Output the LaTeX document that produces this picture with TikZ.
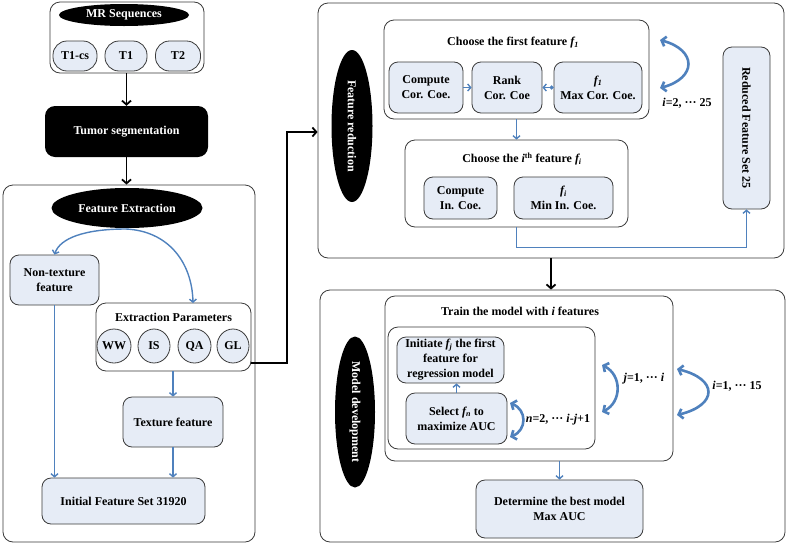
\documentclass[tikz,border=0pt]{standalone}
\usepackage{fontspec}
\setmainfont{Liberation Serif}
\usepackage{graphicx}
\usetikzlibrary{arrows.meta,shapes.geometric}
\definecolor{lb}{HTML}{E6ECF6}
\definecolor{ab}{HTML}{4F81BD}
\definecolor{bd}{HTML}{3A3A3A}
\begin{document}
\begin{tikzpicture}[x=1pt,y=-1pt,
  font=\fontsize{12}{15}\selectfont\bfseries,
  grp/.style={draw=bd, line width=0.8pt, rounded corners=10pt, inner sep=0pt},
  sub/.style={draw=bd, line width=0.8pt, fill=lb, rounded corners=9pt, align=center, inner sep=0pt},
  pill/.style={draw=bd, line width=0.8pt, fill=lb, rounded corners=14pt, inner sep=0pt},
  circ/.style={draw=bd, line width=0.8pt, fill=lb, ellipse, inner sep=0pt, minimum width=34pt, minimum height=34pt},
  blk/.style={fill=black, text=white, ellipse, inner sep=0pt},
  ttl/.style={inner sep=0pt, align=center},
  barrow/.style={draw=ab, line width=1.4pt, -{Straight Barb[length=3pt,width=7pt]}},
  karrow/.style={draw=black, line width=1.8pt, -{Straight Barb[length=4pt,width=9pt]}},
  loopar/.style={draw=ab, line width=2.6pt, {Straight Barb[length=4pt,width=10pt]}-{Straight Barb[length=4pt,width=10pt]}},
]
\useasboundingbox (0,0) rectangle (787,544);

% ---------- left column ----------
\node[grp, minimum width=154pt, minimum height=71pt] (mrbox) at (127,37.5) {};
\node[blk, minimum width=130pt, minimum height=22pt] (mrell) at (124,15) {MR Sequences};
\node[pill, minimum width=44pt, minimum height=30pt] (t1cs) at (75,56) {T1-cs};
\node[pill, minimum width=42pt, minimum height=30pt] (t1) at (126,56) {T1};
\node[pill, minimum width=45pt, minimum height=30pt] (t2) at (178,56) {T2};

\node[fill=black, text=white, rounded corners=10pt, minimum width=163pt, minimum height=51pt, inner sep=0pt] (seg) at (126.5,131.5) {Tumor segmentation};

\node[grp, minimum width=252pt, minimum height=357pt] (fe) at (129,363.5) {};
\node[blk, minimum width=151pt, minimum height=40pt] (feell) at (127,208) {Feature Extraction};
\node[sub, minimum width=89pt, minimum height=50pt] (nontex) at (54.5,280) {Non-texture\\feature};
\node[grp, minimum width=155pt, minimum height=68pt] (ep) at (173.5,337) {};
\node[ttl] (eptitle) at (173.5,317) {Extraction Parameters};
\node[circ] (ww) at (114,346) {WW};
\node[circ, minimum width=32pt] (is) at (154,346) {IS};
\node[circ, minimum width=33pt] (qa) at (194.5,346) {QA};
\node[circ, minimum width=32pt] (gl) at (233,346) {GL};
\node[sub, minimum width=100pt, minimum height=50pt] (tex) at (173,422) {Texture feature};
\node[sub, minimum width=163pt, minimum height=46pt] (init) at (123.5,501) {Initial Feature Set 31920};

\coordinate (feout) at (126,229);
\coordinate (epin) at (193,303);
\coordinate (epout) at (251,363);
\coordinate (bend) at (287,132);

\draw[karrow] (mrbox.south -| seg.north) -- (seg.north);
\draw[karrow] (seg.south) -- (seg.south |- fe.north);
\draw[barrow] (feout) .. controls (85,229) and (60,238) .. (nontex.north);
\draw[barrow] (feout) .. controls (168,231) and (192,262) .. (epin);
\draw[barrow] (ep.south -| tex.north) -- (tex.north);
\draw[barrow] (tex.south) -- (tex.south |- init.north);
\draw[barrow] (nontex.south) -- (nontex.south |- init.north);

% ---------- feature reduction ----------
\node[grp, minimum width=466pt, minimum height=255pt] (fr) at (551,130.5) {};
\draw[karrow] (epout) -| (bend) -- (bend -| fr.west);
\node[blk, minimum width=41pt, minimum height=152pt] (frell) at (352,126) {\rotatebox{-90}{Feature reduction}};
\node[grp, minimum width=265pt, minimum height=99pt] (cf1) at (516.5,69.5) {};
\node[ttl] (cf1t) at (513,43) {Choose the first feature \textit{f\textsubscript{1}}};
\node[sub, minimum width=74pt, minimum height=51pt] (ccc) at (426,87.5) {Compute\\Cor. Coe.};
\node[sub, minimum width=70pt, minimum height=51pt] (rank) at (507,87.5) {Rank\\Cor. Coe};
\node[sub, minimum width=88pt, minimum height=51pt] (f1) at (598,87.5) {\textit{f\textsubscript{1}}\\Max Cor. Coe.};
\node[grp, minimum width=223pt, minimum height=87pt] (cfi) at (516.5,183.5) {};
\node[ttl] (cfit) at (522,159) {Choose the \textit{i}\textsuperscript{th} feature \textit{f\textsubscript{i}}};
\node[sub, minimum width=73pt, minimum height=42pt] (cic) at (460.5,198) {Compute\\In. Coe.};
\node[sub, minimum width=99pt, minimum height=42pt] (fimin) at (563.5,198) {\textit{f\textsubscript{i}}\\Min In. Coe.};
\node[sub, minimum width=47pt, minimum height=162pt] (red) at (746.5,128) {\rotatebox{-90}{Reduced Feature Set 25}};

\draw[barrow] (ccc.east) -- (rank.west);
\draw[draw=ab, line width=1.4pt, {Circle[open,length=4pt]}-{Straight Barb[length=3pt,width=7pt]}] (f1.west) -- (rank.east);
\draw[barrow] (cf1.south) -- (cfi.north);
\draw[barrow] (cfi.south) -- ++(0,20) -| (red.south);

\coordinate (l1a) at (660,40);
\coordinate (l1b) at (660,88);
\draw[loopar] (l1a) .. controls (697,50) and (697,78) .. (l1b);
\node[ttl] (l1t) at (687,103) {\textit{i}=2, ··· 25};

% ---------- model development ----------
\node[grp, minimum width=465pt, minimum height=252pt] (md) at (552.5,416) {};
\draw[karrow] (fr.south) -- (fr.south |- md.north);
\node[blk, minimum width=40pt, minimum height=151pt] (mdell) at (355,412) {\rotatebox{-90}{Model development}};
\node[grp, minimum width=288pt, minimum height=165pt] (train) at (529,378.5) {};
\node[ttl] (traint) at (520,311) {Train the model with \textit{i} features};
\node[grp, minimum width=207pt, minimum height=122pt] (inner) at (491.5,388) {};
\node[sub, minimum width=107pt, minimum height=46pt] (initiate) at (450.5,360) {Initiate \textit{f\textsubscript{j}} the first\\feature for\\regression model};
\node[sub, minimum width=101pt, minimum height=51pt] (select) at (456.5,418.5) {Select \textit{f\textsubscript{n}} to\\maximize AUC};
\node[sub, minimum width=167pt, minimum height=58pt] (det) at (559.5,509) {Determine the best model\\Max AUC};

\draw[barrow] (select.north) -- (select.north |- initiate.south);
\draw[barrow] (det.north |- train.south) -- (det.north);

\coordinate (lna) at (510,403);
\coordinate (lnb) at (510,437);
\draw[loopar] (lna) .. controls (527,410) and (527,430) .. (lnb);
\node[ttl] (lnt) at (558,420) {\textit{n}=2, ··· \textit{i}-\textit{j}+1};

\coordinate (lja) at (602,365);
\coordinate (ljb) at (602,412);
\draw[loopar] (lja) .. controls (622,375) and (622,402) .. (ljb);
\node[ttl] (ljt) at (644,379) {\textit{j}=1, ··· \textit{i}};

\coordinate (lia) at (677,369);
\coordinate (lib) at (677,415);
\draw[loopar] (lia) .. controls (718,379) and (718,405) .. (lib);
\node[ttl] (lit) at (737,386) {\textit{i}=1, ··· 15};
\end{tikzpicture}
\end{document}
